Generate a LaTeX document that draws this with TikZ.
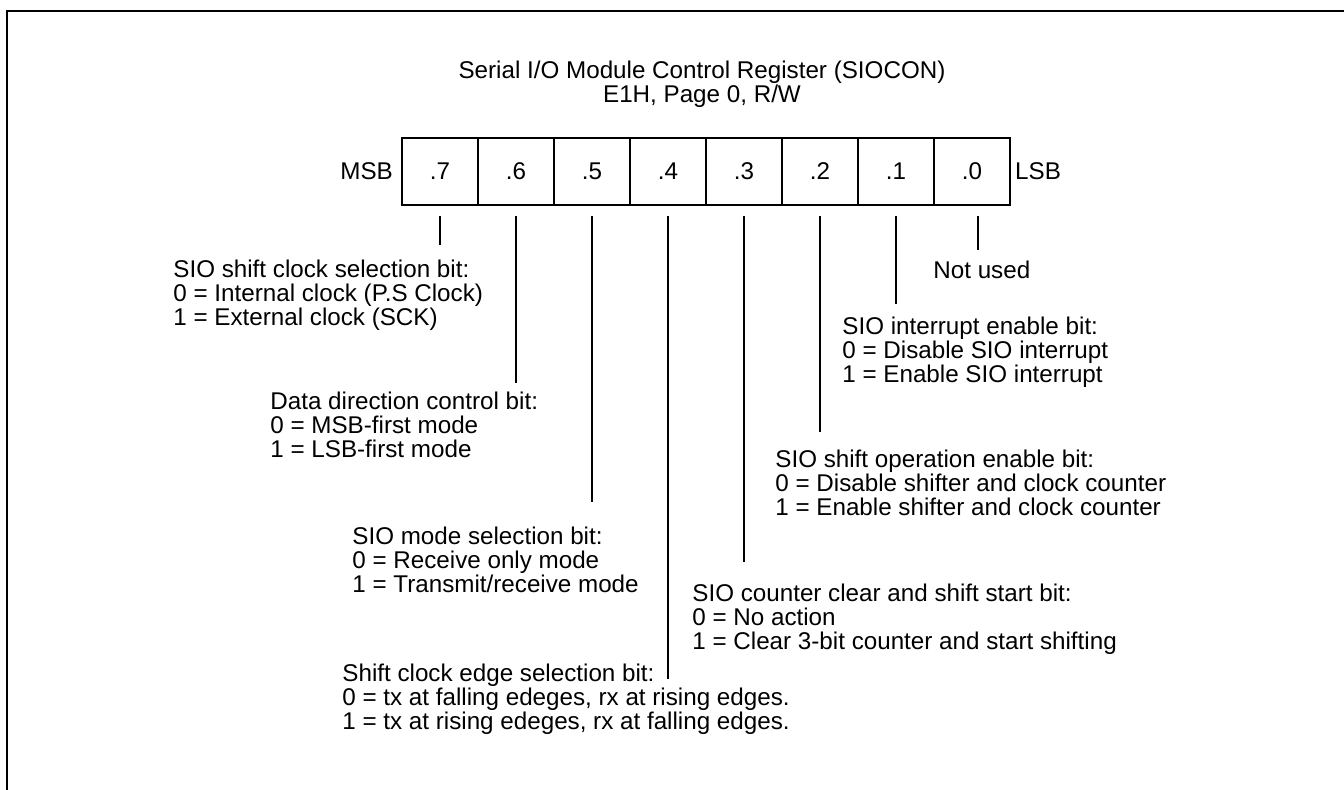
\documentclass[tikz,border=0pt]{standalone}
\usepackage{fontspec}
\setmainfont{Liberation Sans}
\usetikzlibrary{positioning}

\begin{document}
\begin{tikzpicture}[x=0.5pt,y=-0.5pt,
        every node/.style={font=\fontsize{12.1}{12.1}\selectfont},
        cell/.style={draw,line width=0.75pt,minimum width=38pt,minimum height=33.5pt,inner sep=0pt},
        desc/.style={anchor=north west,align=left,inner sep=0pt},
        bitline/.style={line width=0.6pt}]
    \useasboundingbox (0,0) rectangle (1344,790);

    % Frame
    \draw[line width=0.9pt] (1344,10.8) -- (6.7,10.8) -- (6.7,790);

    % Title
    \node[anchor=north,align=center,inner sep=0pt] (title) at (702,60.5)
        {Serial I/O Module Control Register (SIOCON)\\E1H, Page 0, R/W};

    % Register bits
    \node[cell] (b7) at (440,171.5) {.7};
    \node[cell] (b6) at (516,171.5) {.6};
    \node[cell] (b5) at (592,171.5) {.5};
    \node[cell] (b4) at (668,171.5) {.4};
    \node[cell] (b3) at (744,171.5) {.3};
    \node[cell] (b2) at (820,171.5) {.2};
    \node[cell] (b1) at (896,171.5) {.1};
    \node[cell] (b0) at (972,171.5) {.0};
    \node[inner sep=0pt,left=4pt of b7] (msb) {MSB};
    \node[inner sep=0pt,right=2pt of b0] (lsb) {LSB};

    % Descriptions
    \node[desc] (d7) at (173,259.5) {SIO shift clock selection bit:\\0 = Internal clock (P.S Clock)\\1 = External clock (SCK)};
    \node[desc] (d6) at (270,391.5) {Data direction control bit:\\0 = MSB-first mode\\1 = LSB-first mode};
    \node[desc] (d5) at (352,526.5) {SIO mode selection bit:\\0 = Receive only mode\\1 = Transmit/receive mode};
    \node[desc] (d4) at (342,663.5) {Shift clock edge selection bit:\\0 = tx at falling edeges, rx at rising edges.\\1 = tx at rising edeges, rx at falling edges.};
    \node[desc] (d3) at (692,583.5) {SIO counter clear and shift start bit:\\0 = No action\\1 = Clear 3-bit counter and start shifting};
    \node[desc] (d2) at (775,449.5) {SIO shift operation enable bit:\\0 = Disable shifter and clock counter\\1 = Enable shifter and clock counter};
    \node[desc] (d1) at (842,316.5) {SIO interrupt enable bit:\\0 = Disable SIO interrupt\\1 = Enable SIO interrupt};
    \node[desc] (d0) at (933,260.5) {Not used};

    % Line ends
    \coordinate (e7) at (440,245);
    \coordinate (e6) at (516,383);
    \coordinate (e5) at (592,502);
    \coordinate (e4) at (668,679);
    \coordinate (e3) at (744,562);
    \coordinate (e2) at (820,432);
    \coordinate (e1) at (896,304);
    \coordinate (e0) at (978,250);

    % Lines
    \draw[bitline] ([yshift=-5pt]b7.south) -- (e7);
    \draw[bitline] ([yshift=-5pt]b6.south) -- (e6);
    \draw[bitline] ([yshift=-5pt]b5.south) -- (e5);
    \draw[bitline] ([yshift=-5pt]b4.south) -- (e4);
    \draw[bitline] ([yshift=-5pt]b3.south) -- (e3);
    \draw[bitline] ([yshift=-5pt]b2.south) -- (e2);
    \draw[bitline] ([yshift=-5pt]b1.south) -- (e1);
    \draw[bitline] ([xshift=3pt,yshift=-5pt]b0.south) -- (e0);
\end{tikzpicture}
\end{document}
